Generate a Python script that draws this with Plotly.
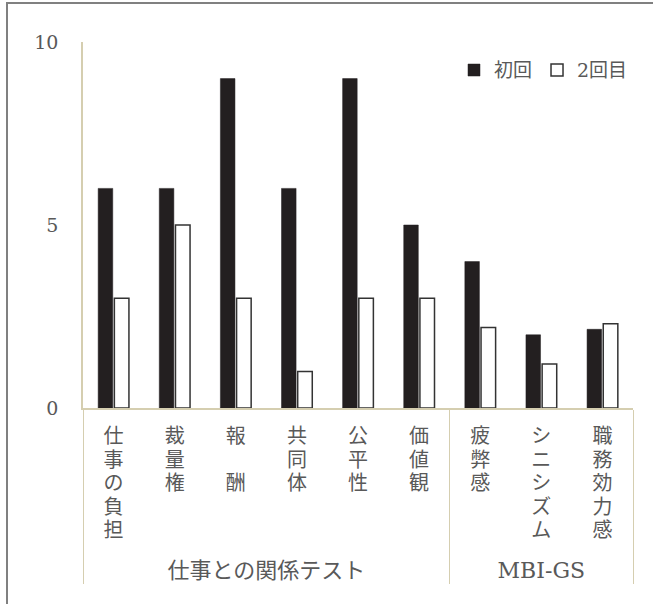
import plotly.graph_objects as go

groups = ["仕事との関係テスト"] * 6 + ["MBI-GS"] * 3
categories = ["仕事の負担", "裁量権", "報　酬", "共同体", "公平性", "価値観", "疲弊感", "シニシズム", "職務効力感"]
first = [6, 6, 9, 6, 9, 5, 4, 2.0, 2.15]
second = [3, 5, 3, 1, 3, 3, 2.2, 1.2, 2.3]
series_names = ["初回", "2回目"]
y_ticks = [0, 5, 10]

# stacked (vertical) writing of each category label, plus a spacer line
def vertical(label):
    return ("<br>".join("<span style='font-size:20px'>%s</span>" % ch for ch in label)
            + "<br><span style='font-size:40px'>　</span>")

def big(label):
    return "<span style='font-size:22px'>%s</span>" % label

x = [[big(g) for g in groups], [vertical(c) for c in categories]]

FONT = "DejaVu Serif, Noto Sans CJK JP, serif"
GRAY = "#595959"
BEIGE = "#D5CEB0"

ML, MT, PW, PH = 83, 42, 550, 366

fig = go.Figure()
fig.add_trace(go.Bar(x=x, y=first, name=series_names[0],
                     marker=dict(color="#231F20", line=dict(color="#231F20", width=0.5))))
fig.add_trace(go.Bar(x=x, y=second, name=series_names[1],
                     marker=dict(color="#FFFFFF", line=dict(color="#333333", width=1.5))))

fig.update_layout(
    width=653, height=604,
    margin=dict(l=ML, r=653 - ML - PW, t=MT, b=604 - MT - PH),
    paper_bgcolor="white", plot_bgcolor="white",
    font=dict(family=FONT, size=18, color=GRAY),
    barmode="group", bargap=0.47, bargroupgap=0.1,
    legend=dict(orientation="h", x=1.0, xanchor="right", y=0.923, yanchor="middle",
                bgcolor="rgba(0,0,0,0)", font=dict(size=19, color=GRAY),
                itemwidth=30, tracegroupgap=0),
    xaxis=dict(type="multicategory", showline=True, linecolor=BEIGE, linewidth=1.5,
               showgrid=False, ticks="", showdividers=True, dividercolor=BEIGE,
               dividerwidth=1.2, automargin=False, ticklabelstandoff=12,
               tickfont=dict(family=FONT, size=18, color=GRAY)),
    yaxis=dict(range=[0, 10], tickvals=y_ticks, showgrid=False, zeroline=False,
               showline=True, linecolor=BEIGE, linewidth=1.5, ticks="",
               ticklabelstandoff=19, automargin=False,
               tickfont=dict(family=FONT, size=19, color=GRAY)),
    shapes=[dict(type="rect", xref="paper", yref="paper",
                 x0=-76 / PW, x1=1.3, y0=-0.8, y1=(408 - 3) / PH,
                 line=dict(color="#808080", width=2), fillcolor="rgba(0,0,0,0)")],
)

fig.write_html("out.html", config={"displayModeBar": False},
               post_script="document.body.style.margin='0';")
